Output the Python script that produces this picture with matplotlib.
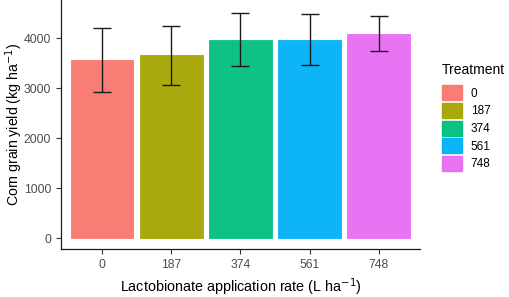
import matplotlib
matplotlib.use("Agg")
import matplotlib.pyplot as plt
from matplotlib.patches import Patch

plt.rcParams['font.family'] = ['Liberation Sans', 'DejaVu Sans']

rates = ['0', '187', '374', '561', '748']
yields = [3570, 3655, 3967, 3964, 4090]
errors = [640, 590, 530, 512, 354]
colors = ['#F8766D', '#A3A500', '#00BF7D', '#00B0F6', '#E76BF3']

fig = plt.figure(figsize=(5.1, 2.97), dpi=100)
ax = fig.add_axes([0.1196, 0.1616, 0.7039, 0.8384])

x = list(range(1, len(rates) + 1))
ax.bar(x, yields, width=0.9, color=colors, alpha=0.95, edgecolor=colors, linewidth=0.6)
ax.errorbar(x, yields, yerr=errors, fmt='none', ecolor='#1a1a1a', elinewidth=1.0,
            capsize=6.5, capthick=1.0)

ax.set_xlim(0.4, 5.6)
ax.set_ylim(-220, 4760)
ax.set_xticks(x)
ax.set_xticklabels(rates)
ax.set_yticks([0, 1000, 2000, 3000, 4000])
ax.tick_params(axis='both', colors='#333333', labelcolor='#4D4D4D', labelsize=8.8,
               length=3.5, width=0.8)
for s in ['top', 'right']:
    ax.spines[s].set_visible(False)
for s in ['left', 'bottom']:
    ax.spines[s].set_color('#1a1a1a')
    ax.spines[s].set_linewidth(0.9)

ax.set_xlabel('Lactobionate application rate (L ha$^{-1}$)', fontsize=10.4)
ax.set_ylabel('Corn grain yield (kg ha$^{-1}$)', fontsize=10.2)
ax.xaxis.set_label_coords(0.5, -0.112)
ax.yaxis.set_label_coords(-0.100, 0.5)

handles = [Patch(facecolor=c, edgecolor=c, alpha=0.95) for c in colors]
leg = fig.legend(handles, rates, title='Treatment', loc='upper left',
                 bbox_to_anchor=(0.866, 0.788), frameon=False, fontsize=8.5,
                 title_fontsize=10, handlelength=1.7, handleheight=1.6,
                 handletextpad=0.75, labelspacing=0.21, borderpad=0, borderaxespad=0)
leg._legend_box.align = 'left'
leg._legend_box.sep = 6

fig.savefig('out.png', dpi=100)
